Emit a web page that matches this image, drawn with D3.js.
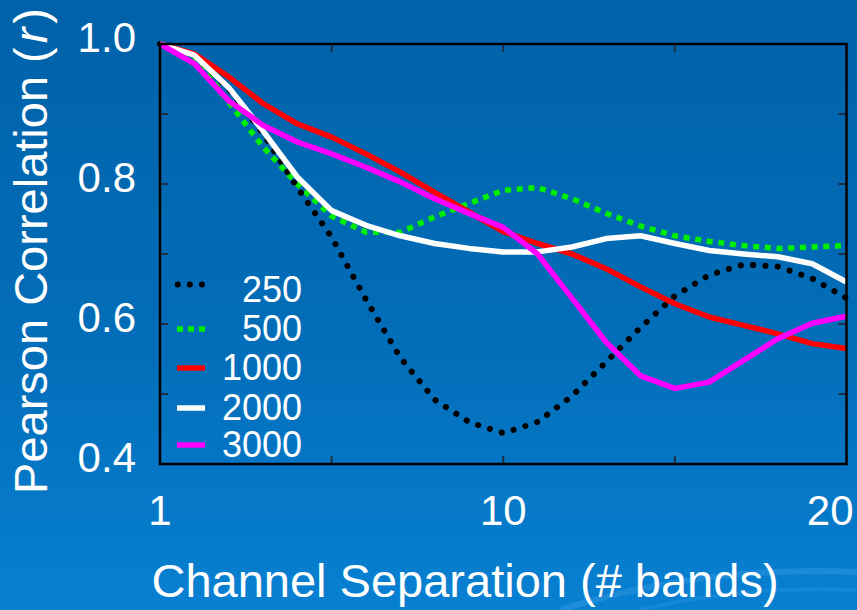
<!DOCTYPE html>
<html>
<head>
<meta charset="utf-8">
<script src="https://d3js.org/d3.v7.min.js"></script>
<style>
  html, body { margin: 0; padding: 0; background: #0068b0; }
  svg { display: block; }
  text { font-family: "Liberation Sans", Arial, Helvetica, sans-serif; fill: #ffffff; }
</style>
</head>
<body>
<svg id="chart" width="857" height="610"></svg>
<script>
// ---- data ----
const bandIndex = [0, 1, 2, 3, 4, 5, 6, 7, 8, 9, 10, 11, 12, 13, 14, 15, 16, 17, 18, 19, 20];
const xTickValues = [0, 5, 10, 15, 20];
const xTickLabels = ["1", "", "10", "", "20"];
const yTickValues = [0.4, 0.5, 0.6, 0.7, 0.8, 0.9, 1.0];
const yTickLabels = ["0.4", "", "0.6", "", "0.8", "", "1.0"];
const seriesNames = ["250", "500", "1000", "2000", "3000"];
const s250  = [1.000, 0.984, 0.936, 0.872, 0.795, 0.724, 0.635, 0.552, 0.492, 0.460, 0.444, 0.460, 0.497, 0.546, 0.595, 0.640, 0.670, 0.685, 0.682, 0.665, 0.637];
const s500  = [1.000, 0.982, 0.917, 0.853, 0.800, 0.754, 0.731, 0.731, 0.753, 0.772, 0.791, 0.795, 0.779, 0.758, 0.740, 0.726, 0.718, 0.712, 0.708, 0.710, 0.712];
const s1000 = [1.000, 0.986, 0.953, 0.915, 0.886, 0.867, 0.843, 0.817, 0.788, 0.760, 0.732, 0.715, 0.700, 0.679, 0.653, 0.629, 0.610, 0.598, 0.586, 0.572, 0.565];
const s2000 = [1.000, 0.984, 0.938, 0.876, 0.810, 0.762, 0.741, 0.726, 0.715, 0.708, 0.703, 0.703, 0.710, 0.722, 0.726, 0.715, 0.705, 0.700, 0.696, 0.686, 0.660];
const s3000 = [1.000, 0.972, 0.919, 0.884, 0.860, 0.843, 0.824, 0.803, 0.779, 0.758, 0.738, 0.700, 0.637, 0.574, 0.526, 0.508, 0.517, 0.548, 0.579, 0.601, 0.611];
const xTitle = "Channel Separation (# bands)";
const yTitle = "Pearson Correlation (";

// ---- layout ----
const W = 857, H = 610;
const plot = { left: 160, right: 846.5, top: 44, bottom: 464 };

const svg = d3.select("#chart");
const defs = svg.append("defs");
const grad = defs.append("linearGradient").attr("id", "bg").attr("x1", 0).attr("y1", 0).attr("x2", 0).attr("y2", 1);
grad.append("stop").attr("offset", "0%").attr("stop-color", "#0062a9");
grad.append("stop").attr("offset", "55%").attr("stop-color", "#026db8");
grad.append("stop").attr("offset", "100%").attr("stop-color", "#0880d2");
svg.append("rect").attr("width", W).attr("height", H).attr("fill", "url(#bg)");

// faint decorative swirl bottom-right
svg.append("path")
  .attr("d", "M560,610 Q700,565 857,572")
  .attr("fill", "none").attr("stroke", "rgba(120,200,255,0.18)").attr("stroke-width", 6);
svg.append("path")
  .attr("d", "M640,610 Q740,585 857,590")
  .attr("fill", "none").attr("stroke", "rgba(120,200,255,0.12)").attr("stroke-width", 4);

const x = d3.scaleLinear().domain([0, 20]).range([plot.left, plot.right]);
const y = d3.scaleLinear().domain([0.4, 1.0]).range([plot.bottom, plot.top]);

// ticks (inside, all four sides)
const tickLen = 8;
const tickColor = "#1c2f45";
const gTicks = svg.append("g");
xTickValues.forEach(v => {
  gTicks.append("line").attr("x1", x(v)).attr("x2", x(v)).attr("y1", plot.bottom).attr("y2", plot.bottom - tickLen)
    .attr("stroke", tickColor).attr("stroke-width", 2);
  gTicks.append("line").attr("x1", x(v)).attr("x2", x(v)).attr("y1", plot.top).attr("y2", plot.top + tickLen)
    .attr("stroke", tickColor).attr("stroke-width", 2);
});
yTickValues.forEach(v => {
  gTicks.append("line").attr("x1", plot.left).attr("x2", plot.left + tickLen).attr("y1", y(v)).attr("y2", y(v))
    .attr("stroke", tickColor).attr("stroke-width", 2);
  gTicks.append("line").attr("x1", plot.right).attr("x2", plot.right - tickLen).attr("y1", y(v)).attr("y2", y(v))
    .attr("stroke", tickColor).attr("stroke-width", 2);
});

// tick labels
xTickValues.forEach((v, i) => {
  if (!xTickLabels[i]) return;
  const last = i === xTickValues.length - 1;
  svg.append("text")
    .attr("x", last ? x(v) + 7 : x(v))
    .attr("y", 525)
    .attr("text-anchor", last ? "end" : "middle")
    .attr("font-size", 42)
    .text(xTickLabels[i]);
});
yTickValues.forEach((v, i) => {
  if (!yTickLabels[i]) return;
  svg.append("text")
    .attr("x", 136)
    .attr("y", y(v) + 8)
    .attr("text-anchor", "end")
    .attr("font-size", 42)
    .text(yTickLabels[i]);
});

// axis titles
svg.append("text")
  .attr("x", 465)
  .attr("y", 597)
  .attr("text-anchor", "middle")
  .attr("font-size", 47)
  .text(xTitle);

const yt = svg.append("text")
  .attr("transform", "translate(47,251) rotate(-90)")
  .attr("text-anchor", "middle")
  .attr("font-size", 47);
yt.append("tspan").text(yTitle);
yt.append("tspan").attr("font-style", "italic").text("\u200Ar");
yt.append("tspan").text("\u200A)");

// series
const styles = [
  { data: s250,  color: "#000000", width: 6,   dash: "0.1,12.3", cap: "round" },
  { data: s500,  color: "#00ee00", width: 5.5, dash: "6,5.7",    cap: "butt" },
  { data: s1000, color: "#ff0000", width: 5.5, dash: null,        cap: "butt" },
  { data: s2000, color: "#ffffff", width: 5.5, dash: null,        cap: "butt" },
  { data: s3000, color: "#ff00ff", width: 5.5, dash: null,        cap: "butt" }
];
const line = d3.line().x((d, i) => x(bandIndex[i])).y(d => y(d));

const drawOrder = [1, 0, 2, 3, 4];
const gLines = svg.append("g");
drawOrder.forEach(k => {
  const s = styles[k];
  gLines.append("path")
    .datum(s.data)
    .attr("d", line)
    .attr("fill", "none")
    .attr("stroke", s.color)
    .attr("stroke-width", s.width)
    .attr("stroke-linejoin", "round")
    .attr("stroke-linecap", s.cap)
    .attr("stroke-dasharray", s.dash);
});

// frame
svg.append("rect")
  .attr("x", plot.left).attr("y", plot.top)
  .attr("width", plot.right - plot.left).attr("height", plot.bottom - plot.top)
  .attr("fill", "none").attr("stroke", "#000").attr("stroke-width", 2.5);

// legend
const legendBase = [302, 341, 380, 420, 457];
const gLeg = svg.append("g");
seriesNames.forEach((name, i) => {
  const s = styles[i];
  const by = legendBase[i];
  const sy = i === 0 ? by - 17.5 : by - 12;
  gLeg.append("line")
    .attr("x1", s.cap === "round" ? 177.7 : 177).attr("x2", 205)
    .attr("y1", sy).attr("y2", sy)
    .attr("stroke", s.color).attr("stroke-width", s.width)
    .attr("stroke-linecap", s.cap)
    .attr("stroke-dasharray", s.cap === "round" ? "0.1,12" : (s.dash ? "6,5" : null));
  gLeg.append("text")
    .attr("x", 302).attr("y", by)
    .attr("text-anchor", "end")
    .attr("font-size", 36)
    .text(name);
});
</script>
</body>
</html>
